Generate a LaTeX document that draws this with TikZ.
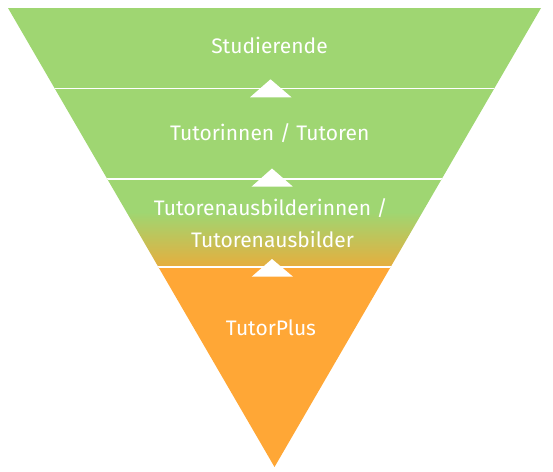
\documentclass[tikz,border=0pt]{standalone}
\usepackage{fontspec}
\setmainfont{Fira Sans}
\definecolor{lvgreen}{HTML}{9FD672}
\definecolor{lvorange}{HTML}{FFA736}
\definecolor{lvgold}{HTML}{E6AE3E}
\begin{document}
\begin{tikzpicture}[x=1pt,y=-1pt,
  lbl/.style={text=white,inner sep=0pt,anchor=base,font=\fontsize{21}{25}\selectfont},
  sep/.style={draw=white,line width=1.6pt},
  uparrow/.style={fill=white}]
\useasboundingbox (0,0) rectangle (553,471);
\coordinate (tl) at (8,8);
\coordinate (tr) at (541,8);
\coordinate (ap) at (274.5,467);
\begin{scope}
  \clip (tl) -- (tr) -- (ap) -- cycle;
  \fill[lvgreen] (0,0) rectangle (553,212);
  \shade[top color=lvgreen,bottom color=lvgold] (0,212) rectangle (553,266.7);
  \fill[lvorange] (0,266.7) rectangle (553,471);
  \draw[sep] (0,88.3) -- (553,88.3);
  \draw[sep] (0,178.7) -- (553,178.7);
  \draw[sep] (0,266.7) -- (553,266.7);
\end{scope}
\fill[uparrow] (270.5,79.3) -- (291.5,97.3) -- (250,97.3) -- cycle;
\fill[uparrow] (272,168.5) -- (292.7,186.5) -- (251.7,186.5) -- cycle;
\fill[uparrow] (272,259) -- (293,276.7) -- (251.7,276.7) -- cycle;
\node[lbl] (s) at (269.5,53.3) {Studierende};
\node[lbl] (t) at (269.7,140) {Tutorinnen / Tutoren};
\node[lbl] (a1) at (270.7,215) {Tutorenausbilderinnen /};
\node[lbl] (a2) at (272.5,247.3) {Tutorenausbilder};
\node[lbl] (p) at (271,335) {TutorPlus};
\end{tikzpicture}
\end{document}
